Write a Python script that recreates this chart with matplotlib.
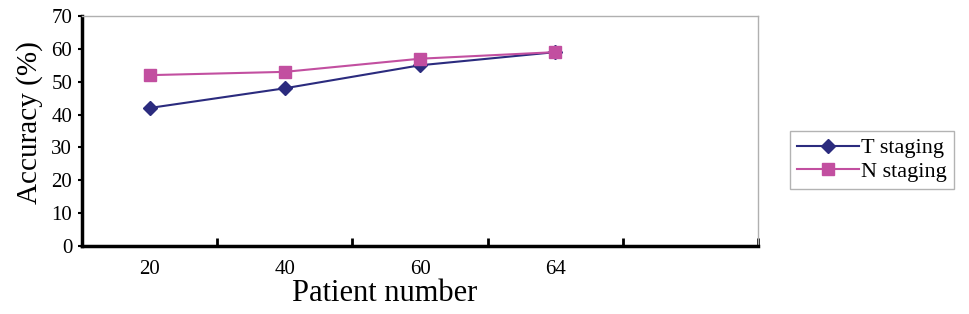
import matplotlib.pyplot as plt

categories = ['20', '40', '60', '64']
t_staging = [42, 48, 55, 59]
n_staging = [52, 53, 57, 59]
y_ticks = [0, 10, 20, 30, 40, 50, 60, 70]

plt.rcParams['font.family'] = ['Liberation Serif', 'DejaVu Serif']

fig = plt.figure(figsize=(9.69, 3.14), dpi=100)
ax = fig.add_axes([82 / 969, 68 / 314, 676 / 969, 230 / 314])

x = list(range(len(categories)))
ax.plot(x, t_staging, color='#2b2b7e', marker='D', markersize=7,
        linewidth=1.5, label='T staging')
ax.plot(x, n_staging, color='#c24fa0', marker='s', markersize=8.5,
        linewidth=1.5, label='N staging')

# one empty category slot on the right, as in the original
ax.set_xlim(-0.5, len(categories) + 0.5)
ax.set_ylim(0, 70)
ax.set_yticks(y_ticks)
ax.tick_params(axis='y', direction='out', length=3, width=1.5, labelsize=15, pad=4)

ax.set_xticks([i + 0.5 for i in range(len(categories) + 1)])
ax.set_xticklabels([])
ax.set_xticks(x, minor=True)
ax.set_xticklabels(categories, minor=True)
ax.tick_params(axis='x', which='major', direction='in', length=6, width=2)
ax.tick_params(axis='x', which='minor', length=0, labelsize=15, pad=10)

for side in ['left', 'bottom']:
    ax.spines[side].set_linewidth(2.5)
    ax.spines[side].set_color('black')
for side in ['top', 'right']:
    ax.spines[side].set_linewidth(1)
    ax.spines[side].set_color('#b0b0b0')

fig.text(30 / 969, 1 - 123 / 314, 'Accuracy (%)', rotation=90, fontsize=21,
         ha='center', va='center')
fig.text(385 / 969, 1 - 301 / 314, 'Patient number', fontsize=22,
         ha='center', va='baseline')

leg = ax.legend(loc='center left', bbox_to_anchor=(790 / 969, 1 - 160 / 314),
                bbox_transform=fig.transFigure, borderaxespad=0, fontsize=16,
                frameon=True, fancybox=False, edgecolor='#a0a0a0',
                handlelength=2.8, borderpad=0.3, labelspacing=0.15,
                handletextpad=0.1)
leg.get_frame().set_linewidth(1)

fig.savefig('out.png', dpi=100)
